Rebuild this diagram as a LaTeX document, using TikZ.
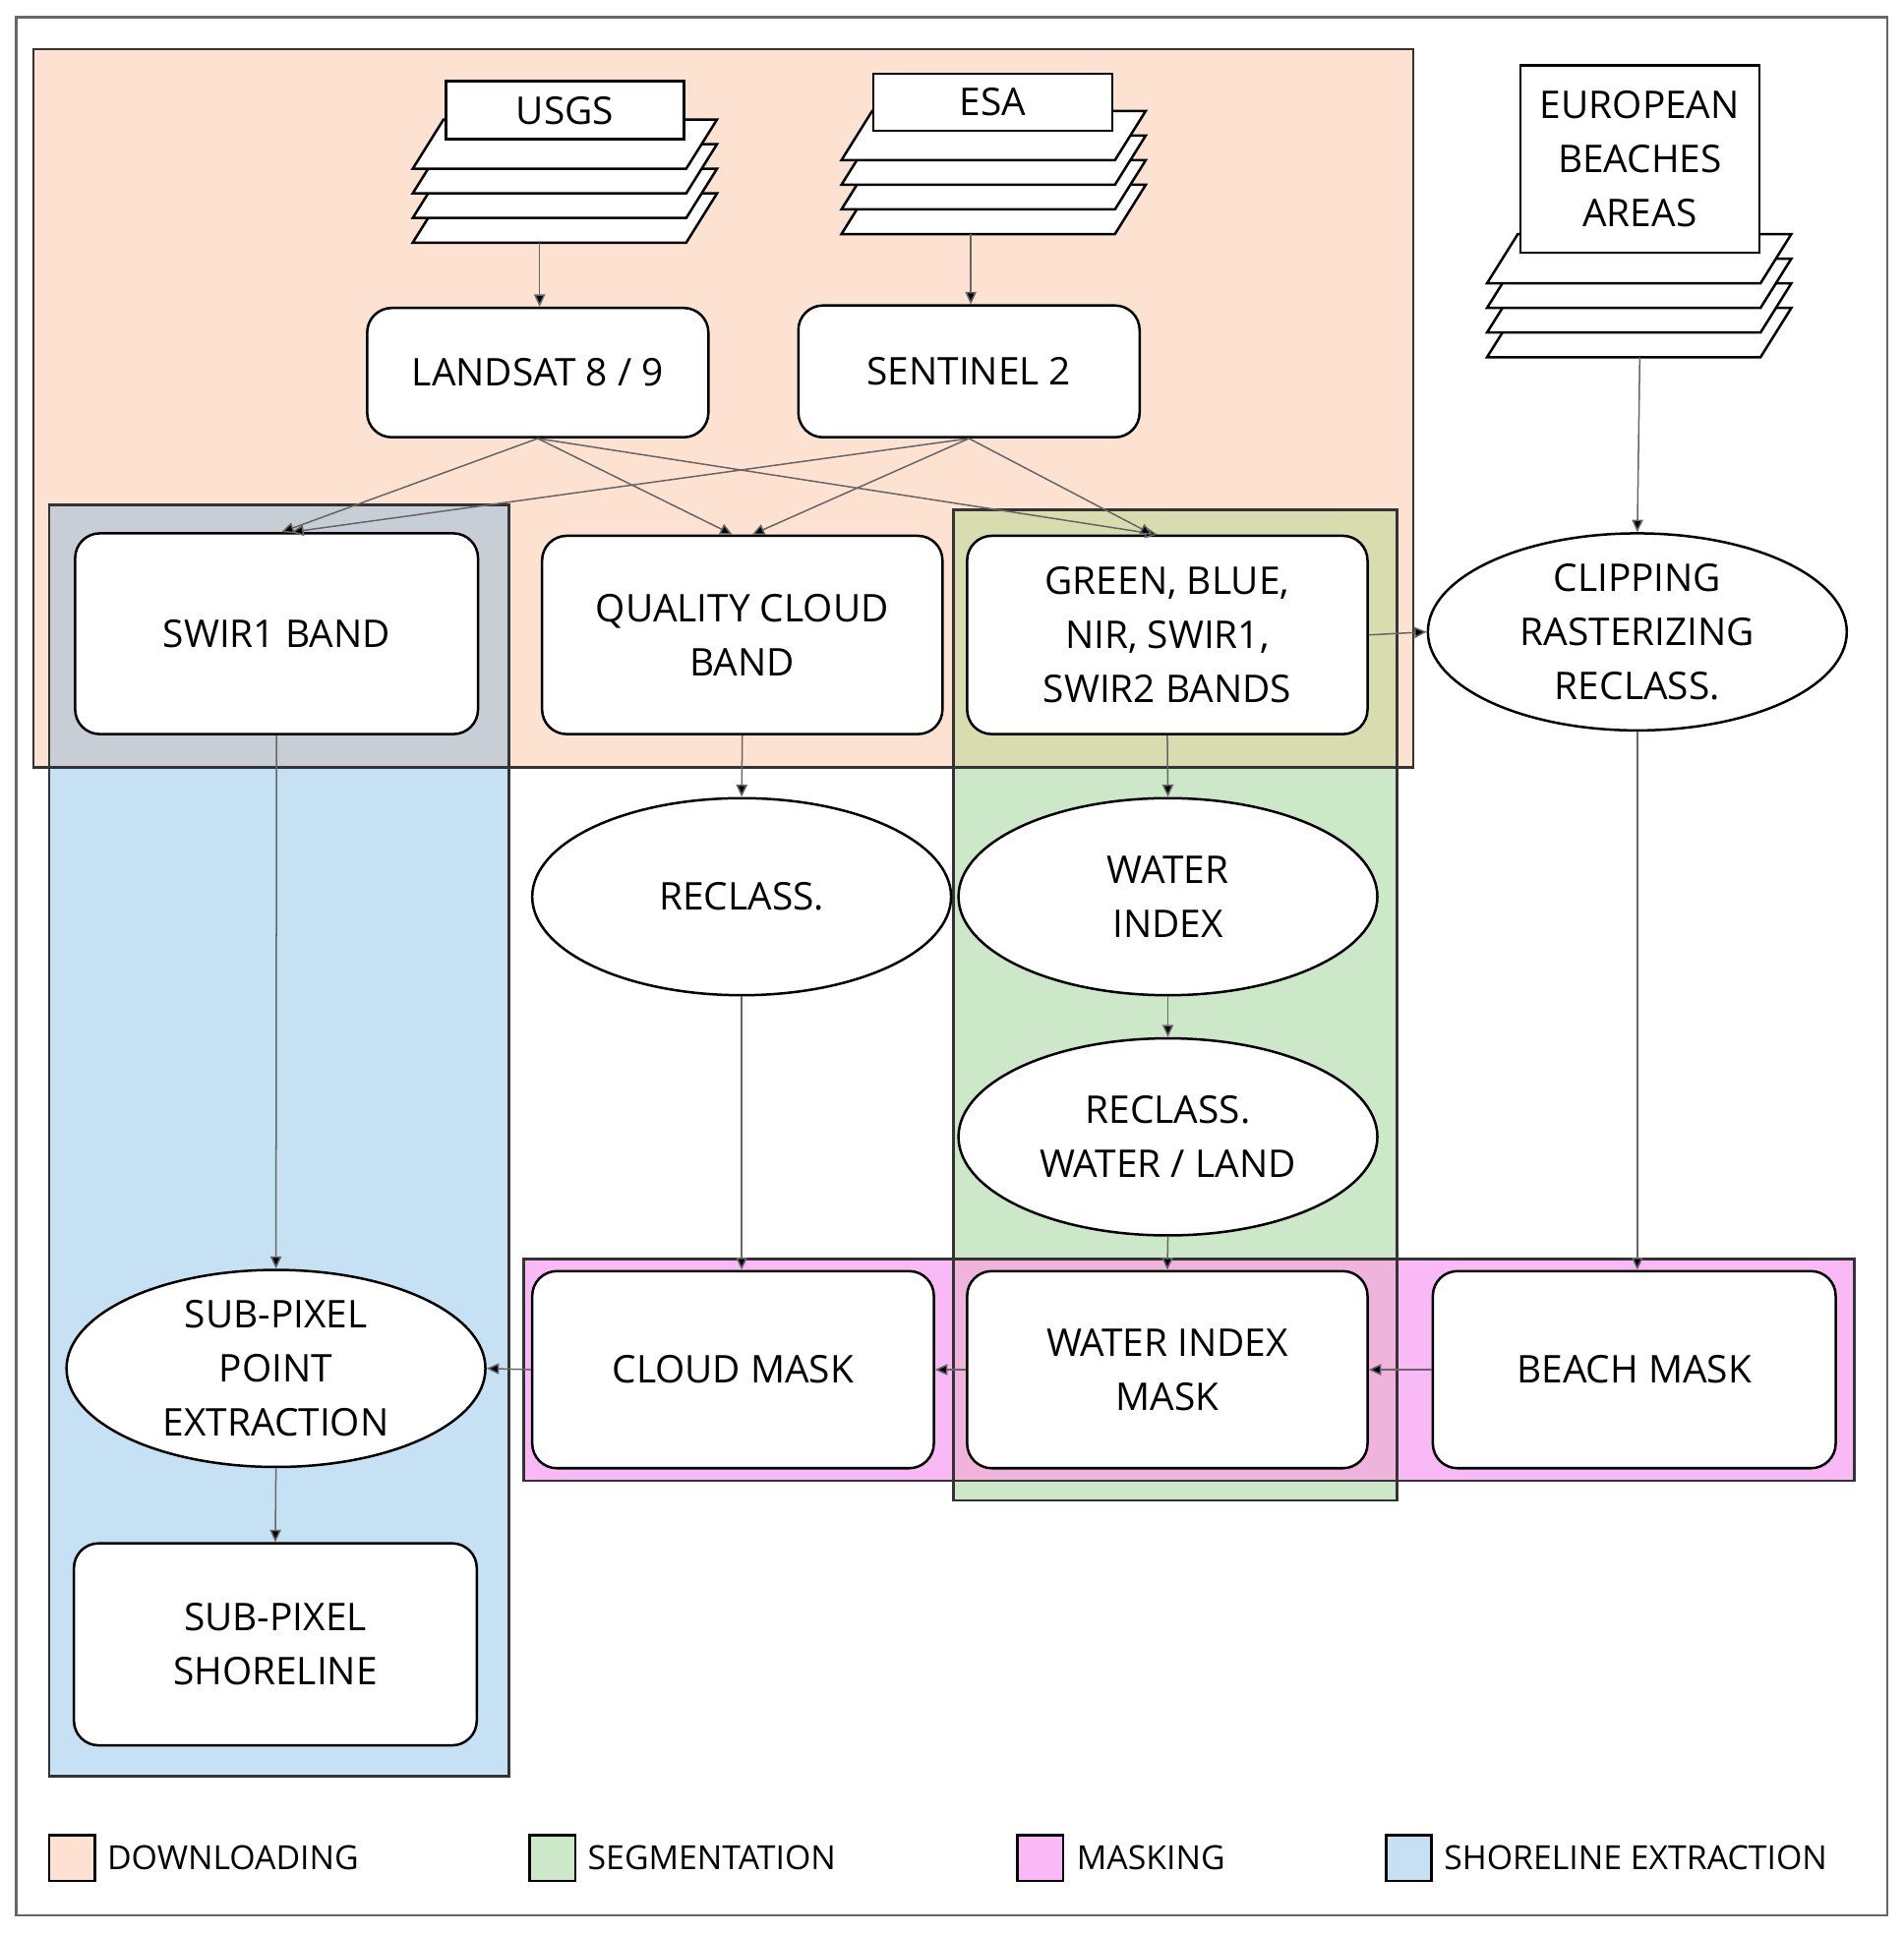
\documentclass[tikz,border=0pt]{standalone}
\usepackage{fontspec}
\setmainfont{Open Sans}
\usetikzlibrary{arrows.meta,shapes.geometric}
\definecolor{cdown}{HTML}{FDE2D2}
\definecolor{cseg}{HTML}{CDE8C8}
\definecolor{cmask}{HTML}{F9B9F6}
\definecolor{cshore}{HTML}{C6E1F3}
\definecolor{cds}{HTML}{C8CED6}
\definecolor{cdg}{HTML}{D8DCAE}
\definecolor{cgm}{HTML}{F0B4DC}
\tikzset{
  box/.style={draw=black,line width=1pt,fill=white,rounded corners=10pt,align=center,inner sep=0pt},
  ell/.style={draw=black,line width=1pt,fill=white,ellipse,align=center,inner sep=0pt,minimum width=170pt,minimum height=80pt},
  lab/.style={draw=black,line width=1pt,fill=white,align=center,inner sep=0pt},
  con/.style={draw=black!60,line width=0.6pt,-{Triangle[length=5pt,width=4.5pt,fill=black]}},
  area/.style={draw=black!80,line width=1pt},
  leg/.style={anchor=west,font=\fontsize{13.5pt}{15pt}\selectfont},
  pics/stack/.style={code={
    \foreach \k in {3,2,1,0}{
      \draw[line width=1pt,fill=white] (25,20*\k) -- (247,20*\k) -- (222,20*\k+40) -- (0,20*\k+40) -- cycle;
    }}}
}
\begin{document}
\begin{tikzpicture}[x=0.5pt,y=-0.5pt,font=\fontsize{15.5pt}{22pt}\selectfont]
\useasboundingbox (0,0) rectangle (1545,1571);
\fill[white] (0,0) rectangle (1545,1571);
\draw[black!60,line width=1pt] (13,14) rectangle (1532,1555);
% areas
\fill[cdown] (27,40) rectangle (1147,623);
\fill[cshore] (40,410) rectangle (413,1442);
\fill[cseg] (774,414) rectangle (1134,1218);
\fill[cmask] (425,1022) rectangle (1505,1202);
\fill[cds] (40,410) rectangle (413,623);
\fill[cdg] (774,414) rectangle (1134,623);
\fill[cgm] (774,1022) rectangle (1134,1202);
\draw[area] (27,40) rectangle (1147,623);
\draw[area] (40,410) rectangle (413,1442);
\draw[area] (774,414) rectangle (1134,1218);
\draw[area] (425,1022) rectangle (1505,1202);
% stacks
\pic at (335,97) {stack};
\node[lab,minimum width=96.5pt,minimum height=23.5pt] (usgs) at (458.5,89.5) {USGS};
\coordinate (usgsb) at (438,197);
\pic at (683,90) {stack};
\node[lab,minimum width=97pt,minimum height=23pt] (esa) at (806,83) {ESA};
\coordinate (esab) at (788,190);
\pic at (1207,190) {stack};
\node[lab,minimum width=97pt,minimum height=76pt] (eur) at (1331,129) {EUROPEAN\\BEACHES\\AREAS};
\coordinate (eurb) at (1331,290);
% nodes
\node[box,minimum width=138.5pt,minimum height=52.5pt] (landsat) at (436.5,302.5) {LANDSAT 8 / 9};
\node[box,minimum width=138.5pt,minimum height=53.5pt] (sentinel) at (786.5,301.5) {SENTINEL 2};
\node[box,minimum width=163.5pt,minimum height=81.5pt] (swir) at (224.5,514.5) {SWIR1 BAND};
\node[box,minimum width=162.5pt,minimum height=80.5pt] (qual) at (602.5,515.5) {QUALITY CLOUD\\BAND};
\node[box,minimum width=162.5pt,minimum height=80.5pt] (green) at (947.5,515.5) {GREEN, BLUE,\\NIR, SWIR1,\\SWIR2 BANDS};
\node[ell] (clip) at (1329,513) {CLIPPING\\RASTERIZING\\RECLASS.};
\node[ell] (reclass) at (602,728) {RECLASS.};
\node[ell] (wi) at (948,728) {WATER\\INDEX};
\node[ell] (rwl) at (948,923) {RECLASS.\\WATER / LAND};
\node[box,minimum width=163pt,minimum height=80pt] (cloud) at (595,1112) {CLOUD MASK};
\node[box,minimum width=162.5pt,minimum height=80pt] (wim) at (947.5,1112) {WATER INDEX\\MASK};
\node[box,minimum width=163.5pt,minimum height=80pt] (beach) at (1326.5,1112) {BEACH MASK};
\node[ell] (spx) at (224,1111) {SUB-PIXEL\\POINT\\EXTRACTION};
\node[box,minimum width=163.5pt,minimum height=82pt] (shore) at (223.5,1335) {SUB-PIXEL\\SHORELINE};
% connectors
\draw[con] (usgsb) -- (landsat.north -| usgsb);
\draw[con] (esab) -- (sentinel.north -| esab);
\draw[con] (eurb) -- (clip.north);
\draw[con] (landsat.south) -- ([xshift=2pt]swir.north);
\draw[con] (landsat.south) -- ([xshift=-4pt]qual.north);
\draw[con] (landsat.south) -- ([xshift=-4pt]green.north);
\draw[con] (sentinel.south) -- ([xshift=6pt]swir.north);
\draw[con] (sentinel.south) -- ([xshift=4pt]qual.north);
\draw[con] (sentinel.south) -- ([xshift=-6pt]green.north);
\draw[con] (green.east) -- (clip.west);
\draw[con] (swir.south) -- (spx.north);
\draw[con] (qual.south) -- (reclass.north);
\draw[con] (reclass.south) -- (reclass.south |- cloud.north);
\draw[con] (green.south) -- (wi.north);
\draw[con] (wi.south) -- (rwl.north);
\draw[con] (rwl.south) -- (wim.north);
\draw[con] (clip.south) -- (clip.south |- beach.north);
\draw[con] (beach.west) -- (wim.east);
\draw[con] (wim.west) -- (cloud.east);
\draw[con] (cloud.west) -- (spx.east);
\draw[con] (spx.south) -- (shore.north);
% legend
\draw[line width=1pt,fill=cdown] (40,1490) rectangle (77,1527);
\node[leg] (l1) at (80,1508) {DOWNLOADING};
\draw[line width=1pt,fill=cseg] (430,1490) rectangle (467,1527);
\node[leg] (l2) at (470,1508) {SEGMENTATION};
\draw[line width=1pt,fill=cmask] (826,1490) rectangle (863,1527);
\node[leg] (l3) at (867,1508) {MASKING};
\draw[line width=1pt,fill=cshore] (1125,1490) rectangle (1162,1527);
\node[leg] (l4) at (1165,1508) {SHORELINE EXTRACTION};
\end{tikzpicture}
\end{document}
